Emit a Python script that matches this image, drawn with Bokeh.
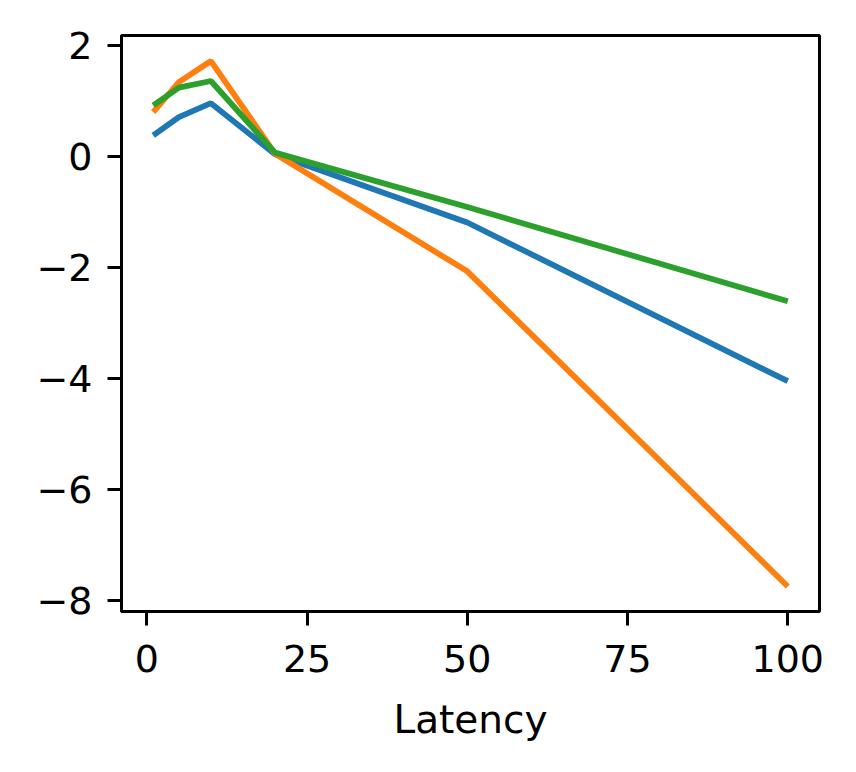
from bokeh.plotting import figure
from bokeh.embed import file_html
from bokeh.resources import INLINE
from bokeh.models import Range1d, FixedTicker

latency = [1, 5, 10, 20, 50, 100]
series_blue = [0.38, 0.71, 0.96, 0.04, -1.19, -4.05]
series_orange = [0.80, 1.34, 1.72, 0.05, -2.07, -7.75]
series_green = [0.92, 1.24, 1.36, 0.07, -0.91, -2.61]
x_ticks = [0, 25, 50, 75, 100]
y_ticks = [-8, -6, -4, -2, 0, 2]

p = figure(width=840, height=756, output_backend="svg", toolbar_location=None,
           x_range=Range1d(-3.95, 104.95), y_range=Range1d(-8.2, 2.18),
           min_border_left=121, min_border_right=21, min_border_top=35, min_border_bottom=145)

for ys, c in [(series_blue, "#1f77b4"), (series_orange, "#ff7f0e"), (series_green, "#2ca02c")]:
    p.line(latency, ys, line_color=c, line_width=5.8)

p.grid.visible = False
p.outline_line_color = "black"
p.outline_line_width = 3
p.outline_line_alpha = 1

for ax in (p.xaxis[0], p.yaxis[0]):
    ax.axis_line_width = 3
    ax.axis_line_color = "black"
    ax.major_tick_line_width = 3
    ax.major_tick_line_color = "black"
    ax.major_tick_out = 14
    ax.major_tick_in = 0
    ax.minor_tick_line_color = None
    ax.major_label_text_font = "DejaVu Sans"
    ax.major_label_text_font_size = "38px"
    ax.major_label_text_color = "black"

p.xaxis.major_label_standoff = 19
p.yaxis.major_label_standoff = 15
p.xaxis.ticker = FixedTicker(ticks=x_ticks)
p.yaxis.ticker = FixedTicker(ticks=y_ticks)
p.yaxis.major_label_overrides = {t: (str(t).replace("-", "\u2212")) for t in y_ticks}
p.xaxis.axis_label = "Latency"
p.xaxis.axis_label_text_font = "DejaVu Sans"
p.xaxis.axis_label_text_font_size = "39px"
p.xaxis.axis_label_text_font_style = "normal"
p.xaxis.axis_label_text_color = "black"
p.xaxis.axis_label_standoff = 22

open("out.html", "w").write(file_html(p, INLINE))
